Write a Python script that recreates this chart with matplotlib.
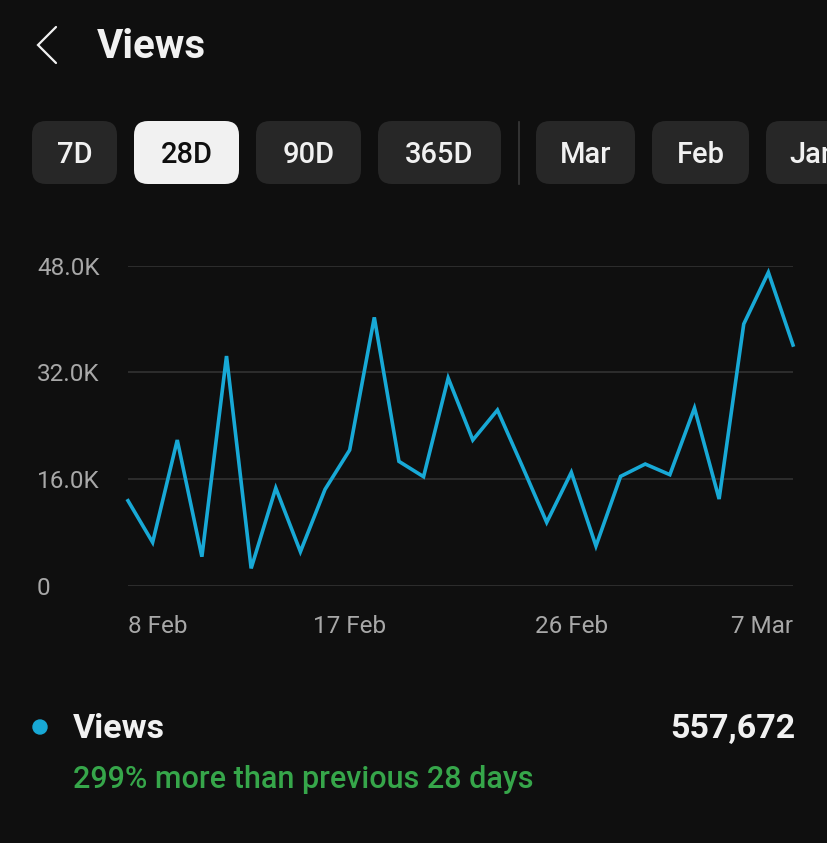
import matplotlib
matplotlib.use("Agg")
import matplotlib.pyplot as plt
from matplotlib.patches import FancyBboxPatch, Circle

# ---- data ----
dates = ["8 Feb", "9 Feb", "10 Feb", "11 Feb", "12 Feb", "13 Feb", "14 Feb",
         "15 Feb", "16 Feb", "17 Feb", "18 Feb", "19 Feb", "20 Feb", "21 Feb",
         "22 Feb", "23 Feb", "24 Feb", "25 Feb", "26 Feb", "27 Feb", "28 Feb",
         "1 Mar", "2 Mar", "3 Mar", "4 Mar", "5 Mar", "6 Mar", "7 Mar"]
views_k = [12.75, 6.5, 21.85, 4.35, 34.45, 2.6, 14.65, 5.1, 14.45, 20.35,
           40.25, 18.65, 16.35, 31.15, 21.85, 26.35, 18.0, 9.5, 17.0, 5.95,
           16.4, 18.25, 16.65, 26.65, 13.0, 39.25, 47.0, 36.1]
ytick_vals = [0, 16, 32, 48]
ytick_labels = ["0", "16.0K", "32.0K", "48.0K"]
xtick_labels = ["8 Feb", "17 Feb", "26 Feb", "7 Mar"]
buttons = ["7D", "28D", "90D", "365D", "Mar", "Feb", "Jan"]
selected = "28D"
total_label = "557,672"
compare_text = "299% more than previous 28 days"
title = "Views"

# ---- style ----
BG = "#0f0f0f"
LINE = "#18a9d6"
GRID = "#333333"
TICK = "#a8a8a8"
WHITE = "#f1f1f1"
GREEN = "#36a64a"
BTN = "#272727"
FONT = ["Roboto", "DejaVu Sans"]

W, H = 828, 843
fig = plt.figure(figsize=(W / 100, H / 100), dpi=100, facecolor=BG)

# overlay in pixel coordinates
ov = fig.add_axes([0, 0, 1, 1])
ov.set_xlim(0, W)
ov.set_ylim(H, 0)
ov.axis("off")

# back chevron
ov.plot([56, 38, 56], [27, 45, 63], color=WHITE, lw=1.6, solid_capstyle="round",
        solid_joinstyle="miter")
ov.text(97, 47, title, color=WHITE, fontsize=29, fontweight="bold",
        family=FONT, va="center", ha="left")

# buttons
btn_x = [(32, 117), (134, 239), (256, 361), (378, 501), (536, 635), (652, 749), (766, 880)]
for name, (x0, x1) in zip(buttons, btn_x):
    sel = name == selected
    p = FancyBboxPatch((x0, 121), x1 - x0, 63,
                       boxstyle="round,pad=0,rounding_size=14",
                       facecolor=WHITE if sel else BTN, edgecolor="none",
                       clip_on=False)
    ov.add_patch(p)
    cut = x1 > W
    ov.text(x0 + 23 if cut else (x0 + x1) / 2, 155, name,
            color="#0f0f0f" if sel else WHITE, fontsize=21, fontweight="medium",
            family=FONT, ha="left" if cut else "center", va="center",
            clip_on=True)
ov.plot([519, 519], [122, 184], color="#3a3a3a", lw=1.2)

# legend / summary
ov.add_patch(Circle((40, 727), 7, color=LINE))
ov.text(73, 729, title, color=WHITE, fontsize=24.5, fontweight="bold",
        family=FONT, va="center", ha="left")
ov.text(795, 729, total_label, color=WHITE, fontsize=24.5, fontweight="bold",
        family=FONT, va="center", ha="right")
ov.text(73, 779, compare_text, color=GREEN, fontsize=22, fontweight="medium",
        family=FONT, va="center", ha="left")

# chart axes
left, right, top, bottom = 128, 793, 265.7, 585.7
ax = fig.add_axes([left / W, 1 - bottom / H, (right - left) / W, (bottom - top) / H])
ax.set_facecolor("none")
x = list(range(len(views_k)))
ax.plot(x, views_k, color=LINE, lw=2.6, solid_joinstyle="miter", clip_on=False)
ax.set_xlim(0, len(views_k) - 1)
ax.set_ylim(0, 48)
for s in ax.spines.values():
    s.set_visible(False)
ax.set_yticks(ytick_vals)
ax.set_yticklabels(ytick_labels)
ax.yaxis.grid(True, color=GRID, lw=1.2)
ax.set_axisbelow(True)
ax.tick_params(axis="y", length=0, pad=(left - 37) / 1.389, labelcolor=TICK, labelsize=17.5)
for lab in ax.get_yticklabels():
    lab.set_horizontalalignment("left")
    lab.set_family(FONT)

xt = [dates.index(d) for d in xtick_labels]
ax.set_xticks(xt)
ax.set_xticklabels(xtick_labels)
ax.tick_params(axis="x", length=0, pad=21, labelcolor=TICK, labelsize=17.5)
labs = ax.get_xticklabels()
for i, lab in enumerate(labs):
    lab.set_family(FONT)
    if i == 0:
        lab.set_horizontalalignment("left")
    elif i == len(labs) - 1:
        lab.set_horizontalalignment("right")

fig.savefig("out.png", dpi=100, facecolor=BG)
